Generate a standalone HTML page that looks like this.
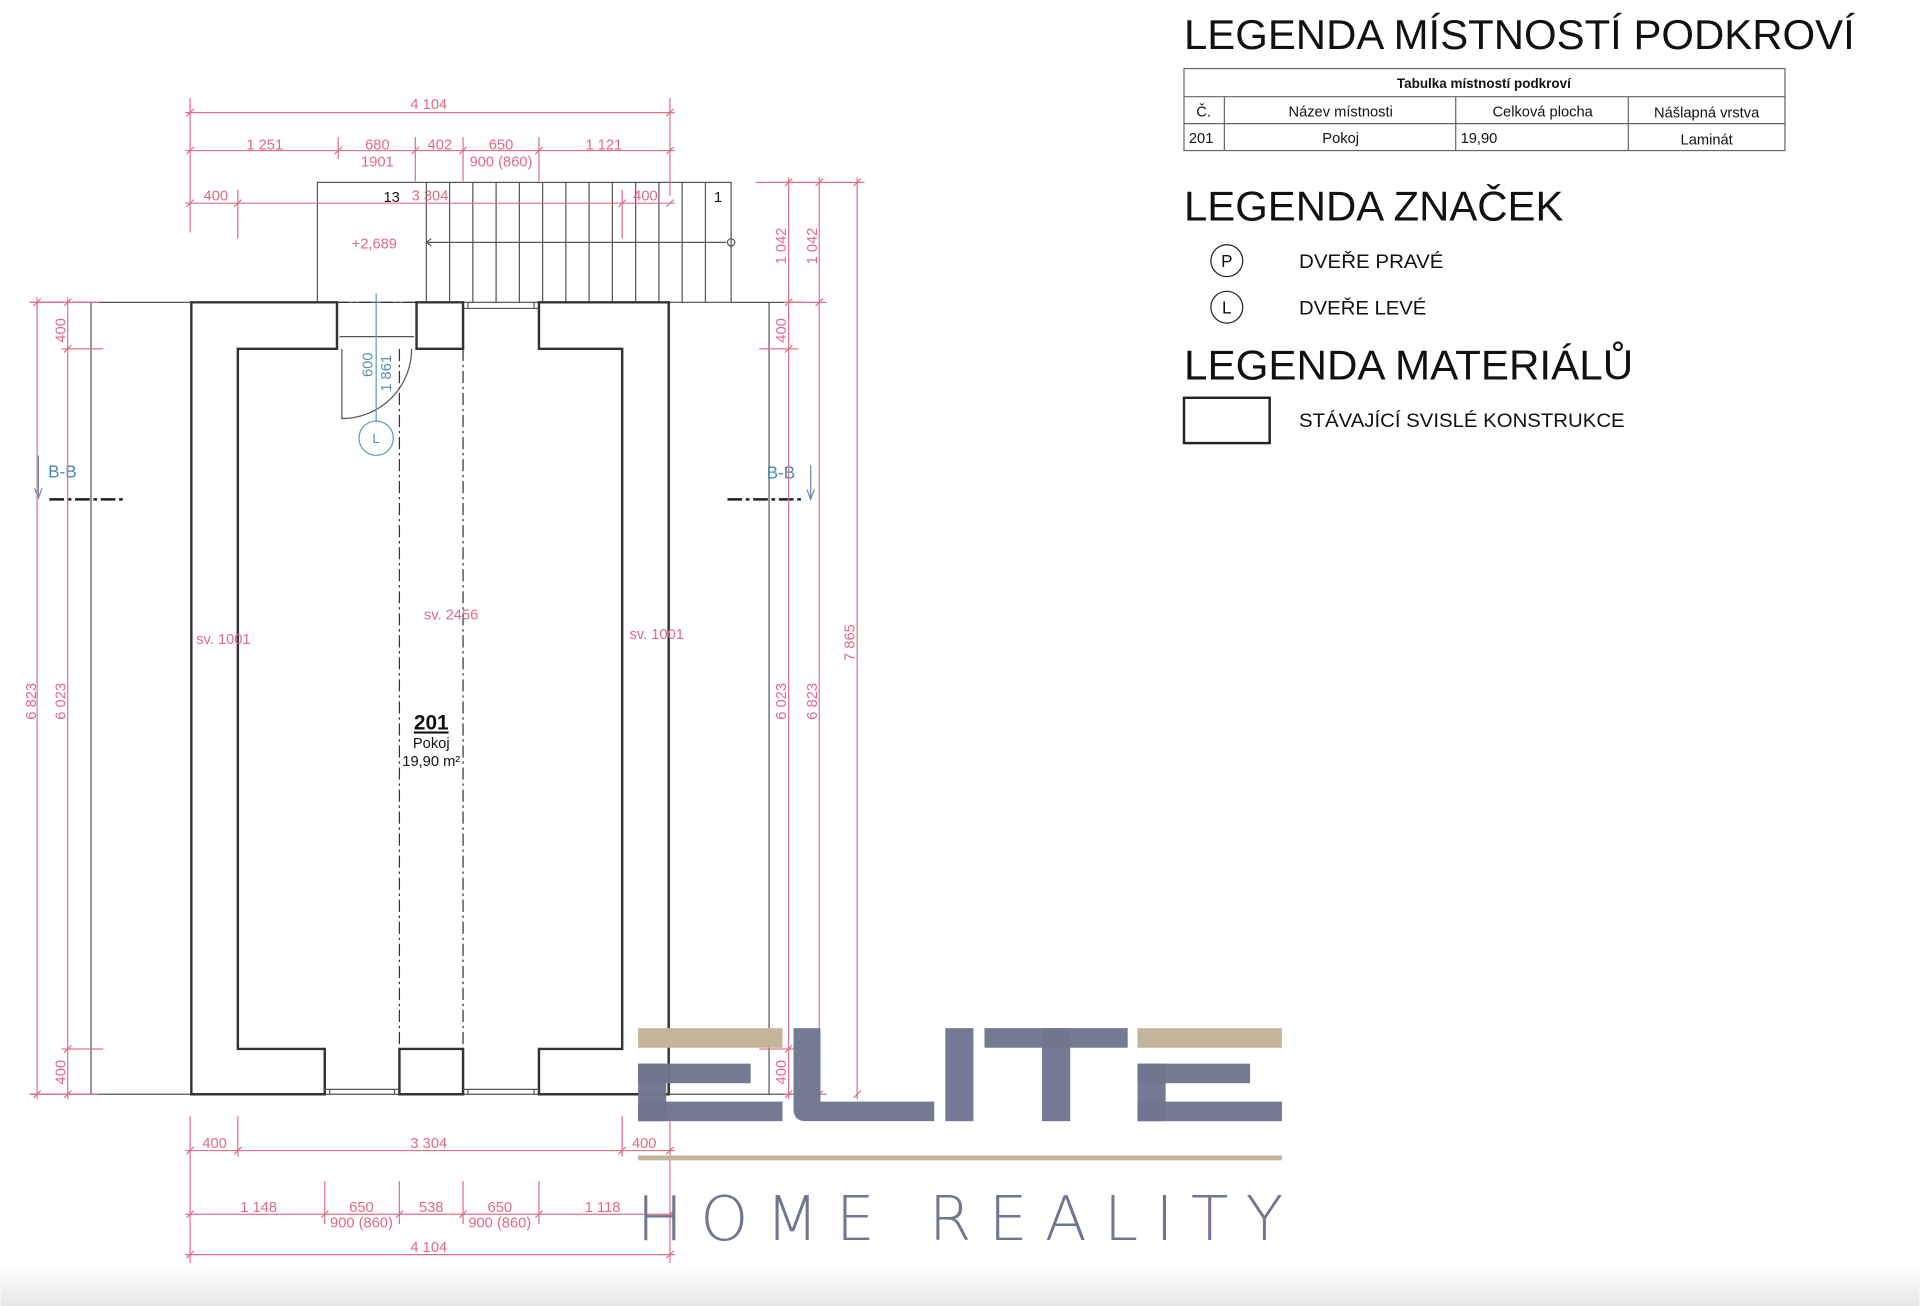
<!DOCTYPE html>
<html><head><meta charset="utf-8"><style>
html,body{margin:0;padding:0;background:#fff;width:1920px;height:1306px;overflow:hidden}
svg{display:block}
.d{stroke:#e0708a;stroke-width:1;fill:none}
.dt{fill:#e06a86;font-family:"Liberation Sans",sans-serif;font-size:12px}
.w{stroke:#333;stroke-width:2;fill:none}
.t{stroke:#555;stroke-width:1;fill:none}
.k{font-family:"Liberation Sans",sans-serif;fill:#111}
</style></head><body>
<svg width="1920" height="1306" viewBox="0 0 1568 1067" xmlns="http://www.w3.org/2000/svg">
<defs>
<linearGradient id="g" x1="0" y1="0" x2="0" y2="1"><stop offset="0" stop-color="#fff"/><stop offset="1" stop-color="#e6e6e6"/></linearGradient>
</defs>
<rect x="0" y="1035" width="1568" height="32" fill="url(#g)"/>

<!-- thin outer lines -->
<path class="t" d="M24 247 H259 M597 247 H656 M74 247 V894 M628 247 V894 M24 894 H656"/>
<!-- stairs -->
<rect x="259" y="149" width="338" height="98" class="t"/>
<g class="t">
<path d="M348 149V247 M367 149V247 M386 149V247 M405 149V247 M424 149V247 M443 149V247 M462 149V247 M481 149V247 M500 149V247 M519 149V247 M538 149V247 M557 149V247 M576 149V247"/>
<path d="M348 198 H593"/><circle cx="597" cy="198" r="3"/>
<path d="M352 195 L348 198 L352 201"/>
</g>
<text x="313" y="165" class="k" font-size="12">13</text>
<text x="583" y="165" class="k" font-size="12">1</text>
<text x="287" y="203" class="dt">+2,689</text>

<!-- walls -->
<path class="w" d="M156 247 H275 V285 H194 V857 H265 V894 H156 Z"/>
<path class="w" d="M340 247 H378 V285 H340 Z"/>
<path class="w" d="M440 247 H546 V894 H440 V857 H508 V285 H440 Z"/>
<path class="w" d="M326 857 H378 V894 H326 Z"/>
<path class="t" d="M277 275 H338 M265 890 H326 M378 890 H440 M378 252 H440 M382 247V252 M436 247V252 M269 890V894 M322 890V894 M382 890V894 M436 890V894"/>
<path d="M275 247 H340" stroke="#333" stroke-dasharray="10,3,2,3" fill="none"/>
<path d="M326 285 V857 M378 285 V857" stroke="#333" stroke-width="1" stroke-dasharray="10,3,2,3" fill="none"/>
<!-- door -->
<path class="t" d="M279 285 V342 A57 57 0 0 0 336 285"/>
<path d="M307 240 V345" stroke="#5a9bc0" stroke-width="1"/>
<circle cx="307" cy="358" r="14" fill="none" stroke="#5a9bc0"/>
<text x="307" y="362" font-size="11" fill="#5a8fb0" text-anchor="middle" font-family="Liberation Sans">L</text>
<text transform="translate(304,308) rotate(-90)" font-size="12" fill="#5a8fb0" font-family="Liberation Sans">600</text>
<text transform="translate(319,320) rotate(-90)" font-size="12" fill="#5a8fb0" font-family="Liberation Sans">1 861</text>

<!-- B-B sections -->
<text x="39" y="390" font-size="14" fill="#4a8ab0" font-family="Liberation Sans">B-B</text>
<path d="M31 372 V405 M28 399 L31 407 L34 399" stroke="#6a8aaa" fill="none"/>
<path d="M40 408 H100" stroke="#222" stroke-width="2" stroke-dasharray="12,3,3,3"/>
<text x="626" y="391" font-size="14" fill="#4a8ab0" font-family="Liberation Sans">B-B</text>
<path d="M662 380 V407 M659 400 L662 408 L665 400" stroke="#6a8aaa" fill="none"/>
<path d="M594 408 H654" stroke="#222" stroke-width="2" stroke-dasharray="12,3,3,3"/>

<!-- labels -->
<text x="160" y="526" class="dt">sv. 1001</text>
<text x="346" y="506" class="dt">sv. 2456</text>
<text x="514" y="522" class="dt">sv. 1001</text>
<text x="352" y="596" class="k" font-size="17" font-weight="bold" text-anchor="middle" text-decoration="underline">201</text>
<text x="352" y="611" class="k" font-size="12" text-anchor="middle">Pokoj</text>
<text x="352" y="626" class="k" font-size="12" text-anchor="middle">19,90 m²</text>

<!-- top dims -->
<g class="d">
<path d="M151 92 H551 M151 123 H551 M151 166 H551"/>
<path d="M155 80 V190 M547 80 V160 M276 112 V130 M339 112 V148 M378 112 V148 M440 112 V148 M194 155 V195 M508 155 V195"/>
<path d="M152 95 L158 89 M544 95 L550 89 M152 126 L158 120 M273 126 L279 120 M336 126 L342 120 M375 126 L381 120 M437 126 L443 120 M544 126 L550 120 M152 169 L158 163 M191 169 L197 163 M505 169 L511 163 M544 169 L550 163"/>
</g>
<text x="350" y="89" class="dt" text-anchor="middle">4 104</text>
<text x="216" y="122" class="dt" text-anchor="middle">1 251</text>
<text x="308" y="122" class="dt" text-anchor="middle">680</text>
<text x="308" y="136" class="dt" text-anchor="middle">1901</text>
<text x="359" y="122" class="dt" text-anchor="middle">402</text>
<text x="409" y="122" class="dt" text-anchor="middle">650</text>
<text x="409" y="136" class="dt" text-anchor="middle">900 (860)</text>
<text x="493" y="122" class="dt" text-anchor="middle">1 121</text>
<text x="176" y="164" class="dt" text-anchor="middle">400</text>
<text x="351" y="164" class="dt" text-anchor="middle">3 304</text>
<text x="527" y="164" class="dt" text-anchor="middle">400</text>

<!-- bottom dims -->
<g class="d">
<path d="M151 940 H551 M151 992 H551 M151 1025 H551"/>
<path d="M155 912 V1032 M547 912 V1032 M194 912 V945 M508 912 V945 M265 965 V1000 M326 965 V1000 M378 965 V1000 M440 965 V1000"/>
<path d="M152 943 L158 937 M191 943 L197 937 M505 943 L511 937 M544 943 L550 937 M152 995 L158 989 M262 995 L268 989 M323 995 L329 989 M375 995 L381 989 M437 995 L443 989 M544 995 L550 989 M152 1028 L158 1022 M544 1028 L550 1022"/>
</g>
<text x="175" y="938" class="dt" text-anchor="middle">400</text>
<text x="350" y="938" class="dt" text-anchor="middle">3 304</text>
<text x="526" y="938" class="dt" text-anchor="middle">400</text>
<text x="211" y="990" class="dt" text-anchor="middle">1 148</text>
<text x="295" y="990" class="dt" text-anchor="middle">650</text>
<text x="295" y="1003" class="dt" text-anchor="middle">900 (860)</text>
<text x="352" y="990" class="dt" text-anchor="middle">538</text>
<text x="408" y="990" class="dt" text-anchor="middle">650</text>
<text x="408" y="1003" class="dt" text-anchor="middle">900 (860)</text>
<text x="492" y="990" class="dt" text-anchor="middle">1 118</text>
<text x="350" y="1023" class="dt" text-anchor="middle">4 104</text>

<!-- left dims -->
<g class="d">
<path d="M30 243 V898 M55 243 V898 M24 247 H80 M50 285 H84 M50 857 H84 M24 894 H80"/>
<path d="M27 250 L33 244 M52 250 L58 244 M52 288 L58 282 M52 860 L58 854 M27 897 L33 891 M52 897 L58 891"/>
</g>
<text transform="translate(53,280) rotate(-90)" class="dt">400</text>
<text transform="translate(29,588) rotate(-90)" class="dt">6 823</text>
<text transform="translate(53,588) rotate(-90)" class="dt">6 023</text>
<text transform="translate(53,886) rotate(-90)" class="dt">400</text>

<!-- right dims -->
<g class="d">
<path d="M644 145 V898 M669 145 V898 M700 145 V898 M617 149 H706 M640 247 H675 M620 285 H652 M620 857 H652 M640 894 H675"/>
<path d="M641 152 L647 146 M666 152 L672 146 M697 152 L703 146 M641 250 L647 244 M666 250 L672 244 M641 288 L647 282 M641 860 L647 854 M641 897 L647 891 M666 897 L672 891 M697 897 L703 891"/>
</g>
<text transform="translate(642,216) rotate(-90)" class="dt">1 042</text>
<text transform="translate(667,216) rotate(-90)" class="dt">1 042</text>
<text transform="translate(642,280) rotate(-90)" class="dt">400</text>
<text transform="translate(642,588) rotate(-90)" class="dt">6 023</text>
<text transform="translate(667,588) rotate(-90)" class="dt">6 823</text>
<text transform="translate(698,540) rotate(-90)" class="dt">7 865</text>
<text transform="translate(642,886) rotate(-90)" class="dt">400</text>

<!-- legend -->
<text x="967" y="40" class="k" font-size="34" textLength="548" lengthAdjust="spacingAndGlyphs">LEGENDA MÍSTNOSTÍ PODKROVÍ</text>
<g stroke="#666" stroke-width="1" fill="none">
<rect x="967" y="56" width="491" height="67"/>
<path d="M967 79 H1458 M967 101 H1458 M1000 79 V123 M1189 79 V123 M1330 79 V123"/>
</g>
<text x="1212" y="72" class="k" font-size="11" font-weight="bold" text-anchor="middle">Tabulka místností podkroví</text>
<text x="983" y="95" class="k" font-size="12" text-anchor="middle">Č.</text>
<text x="1095" y="95" class="k" font-size="12" text-anchor="middle">Název místnosti</text>
<text x="1260" y="95" class="k" font-size="12" text-anchor="middle">Celková plocha</text>
<text x="1394" y="96" class="k" font-size="12" text-anchor="middle">Nášlapná vrstva</text>
<text x="971" y="117" class="k" font-size="12">201</text>
<text x="1095" y="117" class="k" font-size="12" text-anchor="middle">Pokoj</text>
<text x="1193" y="117" class="k" font-size="12">19,90</text>
<text x="1394" y="118" class="k" font-size="12" text-anchor="middle">Laminát</text>

<text x="967" y="180" class="k" font-size="34" textLength="310" lengthAdjust="spacingAndGlyphs">LEGENDA ZNAČEK</text>
<circle cx="1002" cy="213" r="13" fill="none" stroke="#222"/>
<text x="1002" y="218" class="k" font-size="14" text-anchor="middle">P</text>
<text x="1061" y="219" class="k" font-size="16" textLength="118" lengthAdjust="spacingAndGlyphs">DVEŘE PRAVÉ</text>
<circle cx="1002" cy="251" r="13" fill="none" stroke="#222"/>
<text x="1002" y="256" class="k" font-size="14" text-anchor="middle">L</text>
<text x="1061" y="257" class="k" font-size="16" textLength="104" lengthAdjust="spacingAndGlyphs">DVEŘE LEVÉ</text>

<text x="967" y="310" class="k" font-size="34" textLength="367" lengthAdjust="spacingAndGlyphs">LEGENDA MATERIÁLŮ</text>
<rect x="967" y="325" width="70" height="37" fill="none" stroke="#222" stroke-width="2"/>
<text x="1061" y="349" class="k" font-size="16" textLength="266" lengthAdjust="spacingAndGlyphs">STÁVAJÍCÍ SVISLÉ KONSTRUKCE</text>

<!-- logo -->
<g fill="#6f7690" fill-opacity="0.97">
<rect x="521" y="869" width="92" height="16"/>
<rect x="521" y="900" width="118" height="16"/>
<rect x="521" y="869" width="23" height="47"/>
<path d="M648 840 H670 V900 H763 V916 H658 Q648 916 648 906 Z"/>
<rect x="772" y="840" width="23" height="76"/>
<rect x="804" y="840" width="117" height="16"/>
<rect x="851" y="840" width="23" height="76"/>
<rect x="929" y="869" width="92" height="16"/>
<rect x="929" y="900" width="118" height="16"/>
<rect x="929" y="869" width="23" height="47"/>
</g>
<g fill="#c4b49a">
<rect x="521" y="840" width="118" height="16"/>
<rect x="929" y="840" width="118" height="16"/>
<rect x="521" y="944" width="526" height="4"/>
</g>
<text x="520" y="1013" font-family="'DejaVu Sans ExtraLight','DejaVu Sans','Liberation Sans',sans-serif" font-size="50" font-weight="200" fill="#6f7690" textLength="528" lengthAdjust="spacing">HOME REALITY</text>
</svg>
</body></html>
